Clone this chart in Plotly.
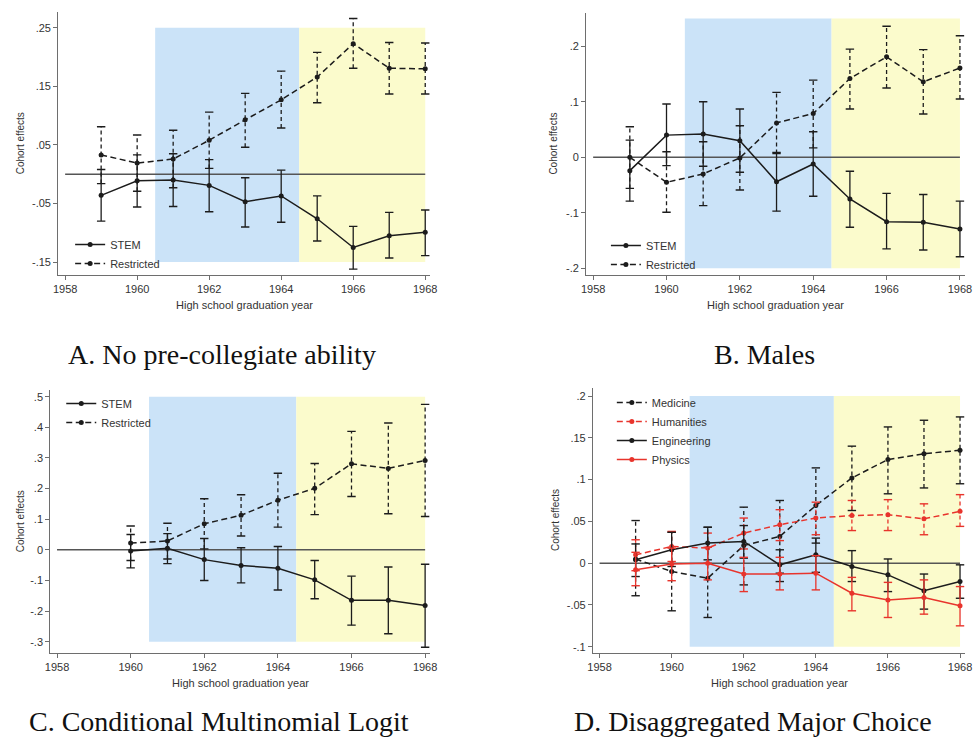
import plotly.graph_objects as go

W, H = 977, 745

# ---------------- data ----------------
years = [1959, 1960, 1961, 1962, 1963, 1964, 1965, 1966, 1967, 1968]
years_c = [1960, 1961, 1962, 1963, 1964, 1965, 1966, 1967, 1968]
x_ticks = [1958, 1960, 1962, 1964, 1966, 1968]
x_tick_labels = ["1958", "1960", "1962", "1964", "1966", "1968"]

# Panel A: No pre-collegiate ability
a_stem = [-0.036, -0.011, -0.010, -0.019, -0.047, -0.037, -0.076, -0.125, -0.105, -0.099]
a_stem_hi = [0.008, 0.033, 0.035, 0.025, -0.006, 0.007, -0.037, -0.089, -0.065, -0.061]
a_stem_lo = [-0.080, -0.056, -0.055, -0.064, -0.090, -0.082, -0.114, -0.162, -0.143, -0.139]
a_restr = [0.033, 0.019, 0.026, 0.058, 0.093, 0.127, 0.166, 0.223, 0.181, 0.180]
a_restr_hi = [0.081, 0.067, 0.075, 0.106, 0.138, 0.176, 0.208, 0.266, 0.225, 0.224]
a_restr_lo = [-0.016, -0.029, -0.023, 0.010, 0.046, 0.079, 0.122, 0.181, 0.137, 0.137]
a_yticks = [-0.15, -0.05, 0.05, 0.15, 0.25]
a_ytick_labels = ["-.15", "-.05", ".05", ".15", ".25"]

# Panel B: Males
b_stem = [-0.024, 0.040, 0.042, 0.030, -0.044, -0.012, -0.075, -0.116, -0.117, -0.129]
b_stem_hi = [0.031, 0.096, 0.100, 0.087, 0.009, 0.046, -0.025, -0.065, -0.067, -0.079]
b_stem_lo = [-0.079, -0.015, -0.016, -0.027, -0.097, -0.070, -0.126, -0.165, -0.167, -0.179]
b_restr = [0.000, -0.045, -0.030, -0.001, 0.062, 0.079, 0.142, 0.181, 0.136, 0.161]
b_restr_hi = [0.055, 0.010, 0.028, 0.057, 0.117, 0.139, 0.195, 0.236, 0.194, 0.219]
b_restr_lo = [-0.056, -0.099, -0.087, -0.059, 0.007, 0.017, 0.087, 0.125, 0.078, 0.105]
b_yticks = [-0.2, -0.1, 0.0, 0.1, 0.2]
b_ytick_labels = ["-.2", "-.1", "0", ".1", ".2"]

# Panel C: Conditional Multinomial Logit
c_stem = [-0.004, 0.005, -0.032, -0.051, -0.060, -0.098, -0.165, -0.165, -0.182]
c_stem_hi = [0.050, 0.053, 0.037, 0.007, 0.011, -0.035, -0.086, -0.056, -0.047]
c_stem_lo = [-0.059, -0.045, -0.100, -0.108, -0.131, -0.160, -0.246, -0.274, -0.318]
c_restr = [0.022, 0.029, 0.085, 0.113, 0.162, 0.201, 0.281, 0.266, 0.292]
c_restr_hi = [0.078, 0.087, 0.167, 0.180, 0.250, 0.282, 0.387, 0.414, 0.475]
c_restr_lo = [-0.035, -0.030, 0.003, 0.045, 0.074, 0.115, 0.174, 0.118, 0.109]
c_yticks = [-0.3, -0.2, -0.1, 0.0, 0.1, 0.2, 0.3, 0.4, 0.5]
c_ytick_labels = ["-.3", "-.2", "-.1", "0", ".1", ".2", ".3", ".4", ".5"]

# Panel D: Disaggregated Major Choice
d_med = [0.005, -0.010, -0.018, 0.021, 0.032, 0.069, 0.102, 0.124, 0.131, 0.135]
d_med_hi = [0.051, 0.037, 0.043, 0.067, 0.075, 0.114, 0.140, 0.163, 0.171, 0.175]
d_med_lo = [-0.039, -0.057, -0.065, -0.026, -0.012, 0.024, 0.063, 0.083, 0.090, 0.095]
d_hum = [0.010, 0.020, 0.018, 0.036, 0.046, 0.054, 0.057, 0.058, 0.053, 0.062]
d_hum_hi = [0.028, 0.038, 0.036, 0.054, 0.064, 0.073, 0.075, 0.076, 0.071, 0.082]
d_hum_lo = [-0.009, 0.002, 0.000, 0.017, 0.027, 0.034, 0.039, 0.039, 0.034, 0.044]
d_eng = [0.004, 0.016, 0.024, 0.026, -0.002, 0.010, -0.004, -0.014, -0.033, -0.022]
d_eng_hi = [0.023, 0.037, 0.043, 0.045, 0.016, 0.030, 0.015, 0.005, -0.013, -0.002]
d_eng_lo = [-0.016, -0.004, 0.004, 0.006, -0.022, -0.011, -0.022, -0.034, -0.055, -0.042]
d_phy = [-0.008, -0.001, 0.000, -0.013, -0.013, -0.012, -0.036, -0.044, -0.041, -0.051]
d_phy_hi = [0.013, 0.018, 0.019, 0.007, 0.007, 0.009, -0.017, -0.023, -0.020, -0.028]
d_phy_lo = [-0.027, -0.021, -0.020, -0.034, -0.032, -0.032, -0.057, -0.065, -0.061, -0.075]
d_yticks = [-0.1, -0.05, 0.0, 0.05, 0.1, 0.15, 0.2]
d_ytick_labels = ["-.1", "-.05", "0", ".05", ".1", ".15", ".2"]

# shaded periods (x extents) and per-panel vertical extents
blue_period = [1960.5, 1964.5]
yellow_period = [1964.5, 1968]
zero_span = [1958, 1968]
shade_y = {"A": [-0.15, 0.25], "B": [-0.2, 0.25], "C": [-0.3, 0.5], "D": [-0.1, 0.2]}

subtitles = {
    "A": "A. No pre-collegiate ability",
    "B": "B. Males",
    "C": "C. Conditional Multinomial Logit",
    "D": "D. Disaggregated Major Choice",
}

# ---------------- style / layout ----------------
BLACK = "#1c1c1c"
RED = "#e8342c"
BLUE_FILL = "#cbe3f8"
YELLOW_FILL = "#fbfbcc"
AXIS_COL = "#6e6e6e"
TEXT_COL = "#333333"
SANS = "Liberation Sans, Arial, sans-serif"
SERIF = "Liberation Serif, Times New Roman, serif"
LINE_DASH = "6px,3.5px"
BAR_DASH = "4px,3px"


def px_x(p):
    return p / W


def px_y(p):
    return 1 - p / H


# panel geometry in pixels: (left, right, top, bottom), axis ranges
panels = {
    "A": dict(box=(53, 430, 12, 275), xr=[1957.81, 1968.14], yr=[-0.172, 0.277],
              ticks=(a_yticks, a_ytick_labels), ax="", sub=(219, 354), ytitle_x=15,
              legend=(65, 230)),
    "B": dict(box=(588, 972, 13, 275), xr=[1957.81, 1968.14], yr=[-0.212, 0.260],
              ticks=(b_yticks, b_ytick_labels), ax="2", sub=(769, 354), ytitle_x=555,
              legend=(608, 231)),
    "C": dict(box=(45, 430, 390, 653), xr=[1957.82, 1968.14], yr=[-0.337, 0.522],
              ticks=(c_yticks, c_ytick_labels), ax="3", sub=(216, 721), ytitle_x=15,
              legend=(56, 389)),
    "D": dict(box=(595, 972, 388, 653), xr=[1957.82, 1968.14], yr=[-0.1075, 0.2096],
              ticks=(d_yticks, d_ytick_labels), ax="4", sub=(757, 721), ytitle_x=557,
              legend=(614, 388)),
}
legend_names = {"A": "legend", "B": "legend2", "C": "legend3", "D": "legend4"}

fig = go.Figure()


def add_series(key, xs, y, lo, hi, color, dashed, name):
    p = panels[key]
    xa, ya = "x" + p["ax"], "y" + p["ax"]
    # whiskers
    wx, wy = [], []
    for xv, l, h in zip(xs, lo, hi):
        wx += [xv, xv, None]
        wy += [l, h, None]
    fig.add_trace(go.Scatter(
        x=wx, y=wy, mode="lines", xaxis=xa, yaxis=ya, showlegend=False, hoverinfo="skip",
        line=dict(color=color, width=1.3, dash=BAR_DASH if dashed else "solid")))
    # caps
    fig.add_trace(go.Scatter(
        x=list(xs) + list(xs), y=list(lo) + list(hi), mode="markers", xaxis=xa, yaxis=ya,
        showlegend=False, hoverinfo="skip",
        marker=dict(symbol="line-ew", size=6, line=dict(color=color, width=1.4))))
    # main line
    fig.add_trace(go.Scatter(
        x=xs, y=y, mode="lines+markers", name=name, xaxis=xa, yaxis=ya,
        legend=legend_names[key],
        line=dict(color=color, width=1.5, dash=LINE_DASH if dashed else "solid"),
        marker=dict(symbol="circle", size=5, color=color)))


# shapes: shading and zero lines
shapes = []
for key, p in panels.items():
    xa, ya = "x" + p["ax"], "y" + p["ax"]
    y0, y1 = shade_y[key]
    shapes.append(dict(type="rect", xref=xa, yref=ya, x0=blue_period[0], x1=blue_period[1],
                       y0=y0, y1=y1, fillcolor=BLUE_FILL, line=dict(width=0), layer="below"))
    shapes.append(dict(type="rect", xref=xa, yref=ya, x0=yellow_period[0], x1=yellow_period[1],
                       y0=y0, y1=y1, fillcolor=YELLOW_FILL, line=dict(width=0), layer="below"))
    shapes.append(dict(type="line", xref=xa, yref=ya, x0=zero_span[0], x1=zero_span[1],
                       y0=0, y1=0, line=dict(color="#555555", width=1.5), layer="below"))

add_series("A", years, a_stem, a_stem_lo, a_stem_hi, BLACK, False, "STEM")
add_series("A", years, a_restr, a_restr_lo, a_restr_hi, BLACK, True, "Restricted")
add_series("B", years, b_stem, b_stem_lo, b_stem_hi, BLACK, False, "STEM")
add_series("B", years, b_restr, b_restr_lo, b_restr_hi, BLACK, True, "Restricted")
add_series("C", years_c, c_stem, c_stem_lo, c_stem_hi, BLACK, False, "STEM")
add_series("C", years_c, c_restr, c_restr_lo, c_restr_hi, BLACK, True, "Restricted")
add_series("D", years, d_med, d_med_lo, d_med_hi, BLACK, True, "Medicine")
add_series("D", years, d_hum, d_hum_lo, d_hum_hi, RED, True, "Humanities")
add_series("D", years, d_eng, d_eng_lo, d_eng_hi, BLACK, False, "Engineering")
add_series("D", years, d_phy, d_phy_lo, d_phy_hi, RED, False, "Physics")

layout = dict(
    width=W, height=H, margin=dict(l=0, r=0, t=0, b=0),
    paper_bgcolor="white", plot_bgcolor="rgba(0,0,0,0)",
    shapes=shapes, showlegend=True,
    font=dict(family=SANS, size=11, color=TEXT_COL),
)

annotations = []
for key, p in panels.items():
    l, r, t, b = p["box"]
    sfx = p["ax"]
    yt, ytl = p["ticks"]
    layout["xaxis" + sfx] = dict(
        domain=[px_x(l), px_x(r)], range=p["xr"], anchor="y" + sfx,
        showgrid=False, zeroline=False, showline=True, linecolor=AXIS_COL, linewidth=1.3,
        ticks="outside", ticklen=4, tickwidth=1, tickcolor=AXIS_COL,
        tickvals=x_ticks, ticktext=x_tick_labels, tickfont=dict(size=11, color=TEXT_COL))
    layout["yaxis" + sfx] = dict(
        domain=[px_y(b), px_y(t)], range=p["yr"], anchor="x" + sfx,
        showgrid=False, zeroline=False, showline=True, linecolor=AXIS_COL, linewidth=1.3,
        ticks="outside", ticklen=4, tickwidth=1, tickcolor=AXIS_COL,
        tickvals=yt, ticktext=ytl, tickfont=dict(size=11, color=TEXT_COL))
    annotations.append(dict(xref="paper", yref="paper", x=px_x((l + r) / 2), y=px_y(b + 30),
                            text="High school graduation year", showarrow=False,
                            font=dict(size=11, color=TEXT_COL), xanchor="center", yanchor="middle"))
    annotations.append(dict(xref="paper", yref="paper", x=px_x(p["ytitle_x"]), y=px_y((t + b) / 2),
                            text="Cohort effects", showarrow=False, textangle=-90,
                            font=dict(size=10, color=TEXT_COL), xanchor="center", yanchor="middle"))
    sx, sy = p["sub"]
    annotations.append(dict(xref="paper", yref="paper", x=px_x(sx), y=px_y(sy),
                            text=subtitles[key], showarrow=False,
                            font=dict(family=SERIF, size=28, color="#111111"),
                            xanchor="center", yanchor="middle"))
    lx, ly = p["legend"]
    layout[legend_names[key]] = dict(
        x=px_x(lx), y=px_y(ly), xanchor="left", yanchor="top",
        bgcolor="rgba(0,0,0,0)", borderwidth=0, font=dict(size=11, color=TEXT_COL),
        tracegroupgap=0, itemclick=False, itemdoubleclick=False)

layout["annotations"] = annotations
fig.update_layout(**layout)
fig.write_html("out.html")
